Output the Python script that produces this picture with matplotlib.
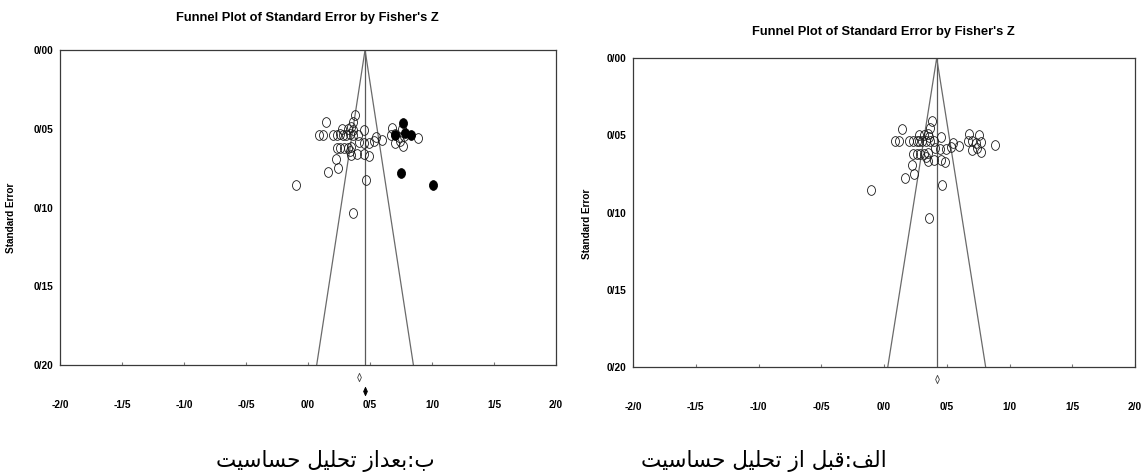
import matplotlib
matplotlib.use('Agg')
import matplotlib.pyplot as plt
from matplotlib import font_manager
from matplotlib.path import Path
from matplotlib.transforms import Affine2D, offset_copy
from matplotlib.ft2font import FT2Font

# ---------------- data ----------------
# observed studies (Fisher's Z, standard error)
obs_z = [0.38, 0.145, 0.365,
         0.276, 0.32, 0.35, 0.36, 0.455, 0.68, 0.76,
         0.085, 0.12, 0.20, 0.232, 0.26, 0.28, 0.305, 0.335, 0.364, 0.40,
         0.55, 0.60, 0.673, 0.70, 0.73, 0.774,
         0.41, 0.45, 0.495, 0.53, 0.70, 0.745, 0.77, 0.885,
         0.232, 0.26, 0.29, 0.32, 0.35, 0.335,
         0.35, 0.395, 0.455, 0.49,
         0.225, 0.24, 0.165, 0.465, -0.10, 0.36]
obs_se = [0.041, 0.046, 0.0455,
          0.050, 0.050, 0.049, 0.051, 0.051, 0.0495, 0.050,
          0.054, 0.054, 0.054, 0.054, 0.0535, 0.054, 0.054, 0.0535, 0.054, 0.054,
          0.055, 0.057, 0.054, 0.0535, 0.055, 0.0545,
          0.0585, 0.059, 0.059, 0.0575, 0.0593, 0.058, 0.061, 0.056,
          0.062, 0.062, 0.062, 0.062, 0.0615, 0.064,
          0.0665, 0.066, 0.066, 0.0675,
          0.0695, 0.075, 0.0775, 0.0825, 0.0855, 0.1035]
# imputed studies (trim and fill), left panel only
imp_z = [0.767, 0.702, 0.781, 0.834, 0.746, 1.01]
imp_se = [0.0462, 0.054, 0.053, 0.054, 0.0778, 0.0854]

left_mean_adj = 0.46
left_mean_obs = 0.415
right_mean = 0.42
left_funnel = [0.07, 0.85]     # funnel limits at SE = 0.20
right_funnel = [0.03, 0.81]

x_ticks = [-2.0, -1.5, -1.0, -0.5, 0.0, 0.5, 1.0, 1.5, 2.0]
x_tick_labels = ['-2/0', '-1/5', '-1/0', '-0/5', '0/0', '0/5', '1/0', '1/5', '2/0']
y_ticks = [0.0, 0.05, 0.10, 0.15, 0.20]
y_tick_labels = ['0/00', '0/05', '0/10', '0/15', '0/20']
title_text = "Funnel Plot of Standard Error by Fisher's Z"
ylabel_text = 'Standard Error'
caption_left = 'ب:بعداز تحلیل حساسیت'
caption_right = 'الف:قبل از تحلیل حساسیت'

# ---------------- fonts ----------------
def pick(fams):
    for f in fams:
        try:
            font_manager.findfont(font_manager.FontProperties(family=f),
                                  fallback_to_default=False)
            return f
        except Exception:
            pass
    return 'DejaVu Sans'

narrow = pick(['Liberation Sans Narrow', 'Liberation Sans Condensed', 'Liberation Sans', 'Arial'])
is_narrow = 'Narrow' in narrow or 'Condensed' in narrow
tick_fs = 8 if is_narrow else 7.3
title_fs = 10.3 if is_narrow else 9.3
ylab_fs = 8 if is_narrow else 7.2

# ---------------- simple Arabic shaping ----------------
dv_path = font_manager.findfont('DejaVu Sans')
try:
    cmap = FT2Font(dv_path).get_charmap()
except Exception:
    cmap = {}
yeh_forms = (0xFBFC, 0xFBFD, 0xFBFE, 0xFBFF) if 0xFBFF in cmap else (0xFEF1, 0xFEF2, 0xFEF3, 0xFEF4)
FORMS = {
    'ا': (0xFE8D, 0xFE8E), 'د': (0xFEA9, 0xFEAA), 'ز': (0xFEAF, 0xFEB0),
    'ب': (0xFE8F, 0xFE90, 0xFE91, 0xFE92), 'ت': (0xFE95, 0xFE96, 0xFE97, 0xFE98),
    'ح': (0xFEA1, 0xFEA2, 0xFEA3, 0xFEA4), 'س': (0xFEB1, 0xFEB2, 0xFEB3, 0xFEB4),
    'ع': (0xFEC9, 0xFECA, 0xFECB, 0xFECC), 'ف': (0xFED1, 0xFED2, 0xFED3, 0xFED4),
    'ق': (0xFED5, 0xFED6, 0xFED7, 0xFED8), 'ل': (0xFEDD, 0xFEDE, 0xFEDF, 0xFEE0),
    'ی': yeh_forms,
}

def shape(s):
    out = []
    n = len(s)
    for i, c in enumerate(s):
        if c not in FORMS:
            out.append(c)
            continue
        f = FORMS[c]
        prev = s[i - 1] if i > 0 else None
        nxt = s[i + 1] if i < n - 1 else None
        jp = prev in FORMS and len(FORMS[prev]) == 4
        jn = len(f) == 4 and nxt in FORMS
        if jp and jn:
            out.append(chr(f[3]))
        elif jp:
            out.append(chr(f[1]))
        elif jn:
            out.append(chr(f[2]))
        else:
            out.append(chr(f[0]))
    return ''.join(out)[::-1]

# ---------------- markers ----------------
ellipse = Affine2D().scale(0.82, 1.0).transform_path(Path.unit_circle())
diamond = Path([(0, 1), (0.45, 0), (0, -1), (-0.45, 0), (0, 1)],
               [Path.MOVETO, Path.LINETO, Path.LINETO, Path.LINETO, Path.CLOSEPOLY])

W, H = 1143, 473
fig = plt.figure(figsize=(W / 100, H / 100), dpi=100)
fig.patch.set_facecolor('white')

def setup(ax, mean, funnel):
    ax.set_xlim(-2, 2)
    ax.set_ylim(0.20, 0.0)
    ax.plot([mean, mean], [0.0, 0.20], color='#5a5a5a', lw=0.9, zorder=1)
    ax.plot([funnel[0], mean, funnel[1]], [0.20, 0.0, 0.20], color='#6a6a6a', lw=0.9, zorder=1)
    ax.set_xticks(x_ticks)
    ax.set_xticklabels(x_tick_labels, fontfamily=narrow, fontweight='bold', fontsize=tick_fs)
    ax.set_yticks(y_ticks)
    ax.set_yticklabels(y_tick_labels, fontfamily=narrow, fontweight='bold', fontsize=tick_fs)
    ax.tick_params(axis='x', direction='in', length=2.5, width=0.8, color='#777777', pad=25)
    ax.tick_params(axis='y', length=0, pad=5)
    for sp in ax.spines.values():
        sp.set_color('#3a3a3a')
        sp.set_linewidth(0.9)

def open_pts(ax, z, se):
    ax.plot(z, se, linestyle='none', marker=ellipse, markersize=7.0,
            markerfacecolor='none', markeredgecolor='#1a1a1a', markeredgewidth=0.6, zorder=3)

# ---- left panel (after sensitivity analysis) ----
axL = fig.add_axes([60 / W, 1 - 365 / H, 496 / W, 315 / H])
setup(axL, left_mean_adj, left_funnel)
open_pts(axL, obs_z, obs_se)
axL.plot(imp_z, imp_se, linestyle='none', marker=ellipse, markersize=7.0,
         markerfacecolor='black', markeredgecolor='black', markeredgewidth=0.6, zorder=4)
tL1 = offset_copy(axL.get_xaxis_transform(), fig=fig, x=0, y=-12, units='dots')
axL.plot([left_mean_obs], [0], transform=tL1, marker=diamond, markersize=6,
         markerfacecolor='white', markeredgecolor='#444444', markeredgewidth=0.6,
         linestyle='none', clip_on=False)
tL2 = offset_copy(axL.get_xaxis_transform(), fig=fig, x=0, y=-26, units='dots')
axL.plot([left_mean_adj], [0], transform=tL2, marker=diamond, markersize=6,
         markerfacecolor='black', markeredgecolor='black', markeredgewidth=0.6,
         linestyle='none', clip_on=False)

# ---- right panel (before sensitivity analysis) ----
axR = fig.add_axes([633 / W, 1 - 367 / H, 502 / W, 309 / H])
setup(axR, right_mean, right_funnel)
open_pts(axR, obs_z, obs_se)
tR1 = offset_copy(axR.get_xaxis_transform(), fig=fig, x=0, y=-12, units='dots')
axR.plot([right_mean], [0], transform=tR1, marker=diamond, markersize=6,
         markerfacecolor='white', markeredgecolor='#444444', markeredgewidth=0.6,
         linestyle='none', clip_on=False)

# ---- titles, axis labels, captions ----
fig.text(307 / W, 1 - 18 / H, title_text, ha='center', va='center',
         fontfamily=narrow, fontweight='bold', fontsize=title_fs)
fig.text(883 / W, 1 - 32 / H, title_text, ha='center', va='center',
         fontfamily=narrow, fontweight='bold', fontsize=title_fs)
fig.text(11 / W, 1 - 218 / H, ylabel_text, rotation=90, ha='center', va='center',
         fontfamily=narrow, fontweight='bold', fontsize=ylab_fs)
fig.text(587 / W, 1 - 224 / H, ylabel_text, rotation=90, ha='center', va='center',
         fontfamily=narrow, fontweight='bold', fontsize=ylab_fs)
fig.text(325 / W, 1 - 461 / H, shape(caption_left), ha='center', va='center',
         fontfamily=['DejaVu Sans'], fontsize=15.5)
fig.text(764 / W, 1 - 461 / H, shape(caption_right), ha='center', va='center',
         fontfamily=['DejaVu Sans'], fontsize=15.5)

fig.savefig('out.png', dpi=100)
